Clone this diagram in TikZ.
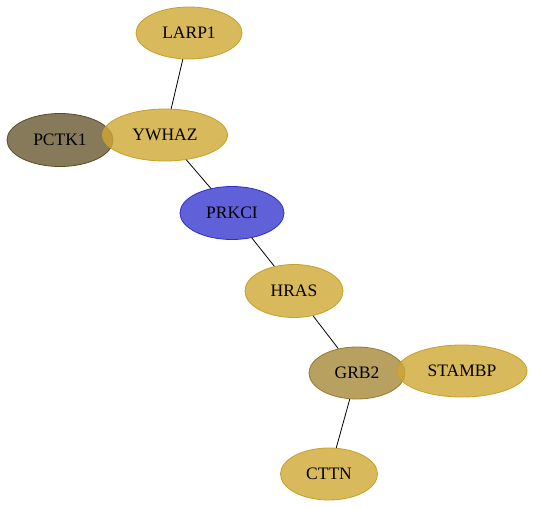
\documentclass[tikz,border=0pt]{standalone}
\usepackage{fontspec}
\setmainfont{Liberation Serif}
\usetikzlibrary{shapes.geometric}
\definecolor{goldf}{RGB}{206,167,51}
\definecolor{golds}{RGB}{200,160,40}
\definecolor{pctkf}{RGB}{105,89,49}
\definecolor{pctks}{RGB}{90,76,40}
\definecolor{prkf}{RGB}{56,56,206}
\definecolor{prks}{RGB}{45,45,200}
\definecolor{grbf}{RGB}{166,136,56}
\definecolor{grbs}{RGB}{150,122,45}
\tikzset{
  prot/.style={ellipse, inner sep=0pt, fill opacity=0.8, text opacity=1, line width=0.8pt, font=\fontsize{17.5}{20}\selectfont},
  gold/.style={prot, fill=goldf, draw=golds},
  edge/.style={draw=black, line width=0.8pt}
}
\begin{document}
\begin{tikzpicture}[x=1pt,y=-1pt]
\useasboundingbox (0,0) rectangle (535,508);
\node[prot, fill=pctkf, draw=pctks, minimum width=106pt, minimum height=53pt] (pctk1) at (60,140) {PCTK1};
\node[gold, minimum width=106pt, minimum height=52pt] (larp1) at (189,33) {LARP1};
\node[gold, minimum width=125pt, minimum height=52pt] (ywhaz) at (165,135) {YWHAZ};
\node[prot, fill=prkf, draw=prks, minimum width=104pt, minimum height=53pt] (prkci) at (232,213) {PRKCI};
\node[gold, minimum width=98pt, minimum height=53pt] (hras) at (294,291) {HRAS};
\node[prot, fill=grbf, draw=grbs, minimum width=96pt, minimum height=52pt] (grb2) at (357,373) {GRB2};
\node[gold, minimum width=130pt, minimum height=52pt] (stambp) at (462,371) {STAMBP};
\node[gold, minimum width=97pt, minimum height=52pt] (cttn) at (329,474) {CTTN};
\draw[edge] (larp1) -- (ywhaz);
\draw[edge] (ywhaz) -- (prkci);
\draw[edge] (prkci) -- (hras);
\draw[edge] (hras) -- (grb2);
\draw[edge] (grb2) -- (cttn);
\end{tikzpicture}
\end{document}
